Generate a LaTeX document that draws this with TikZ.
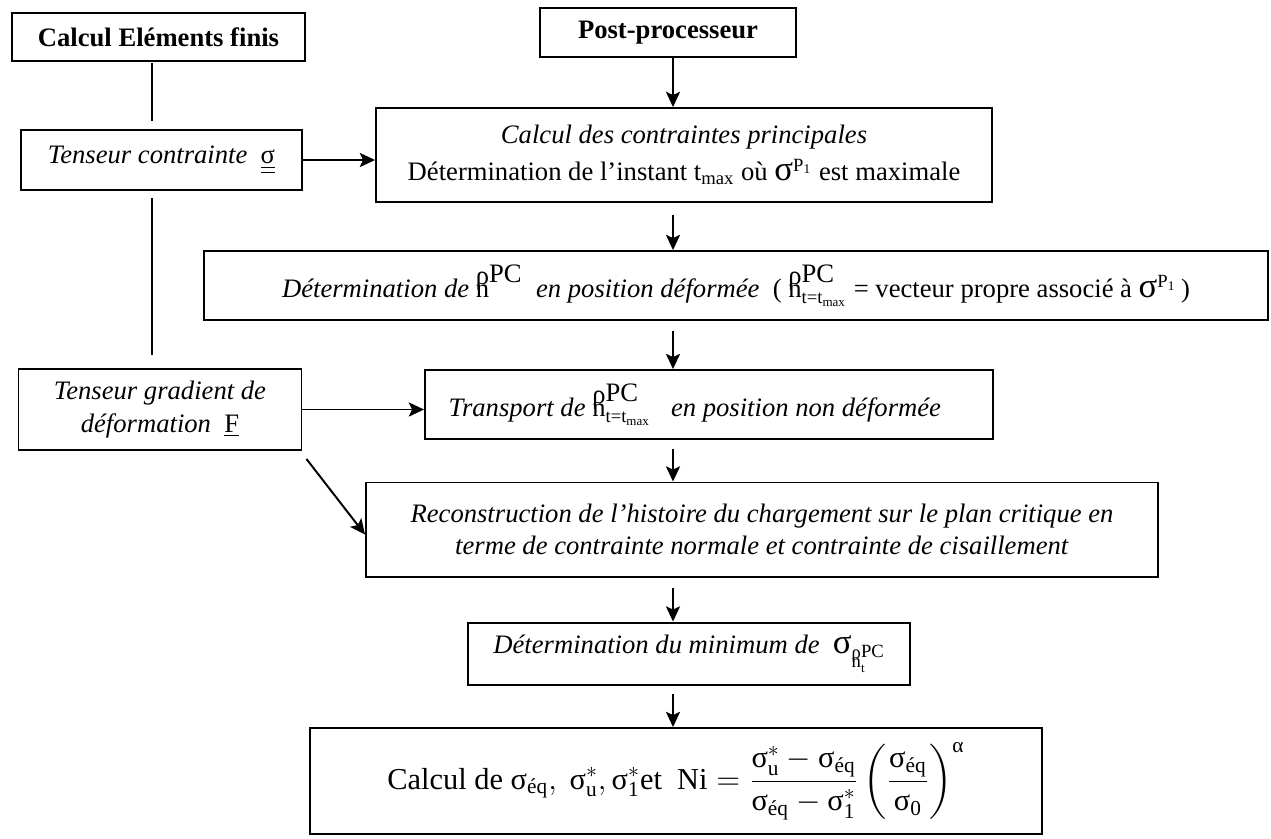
\documentclass[tikz,border=0pt]{standalone}
\usepackage{fontspec}
\setmainfont{Liberation Serif}
\usepackage{amsmath}
\usetikzlibrary{arrows.meta,calc}
\newcommand{\nvec}[2]{\textup{\rlap{\raisebox{1.05ex}{ρ}}}$\textup{n}^{\raisebox{0.45ex}{\textup{#1}}}_{\textup{#2}}$}
\newcommand{\bigsig}{{\fontsize{16}{16}\selectfont σ}}
\newcommand{\sgP}{\bigsig$^{\textup{P}_{\textup{1}}}$}
\newcommand{\sm}{\text{σ}}
\tikzset{
  bx/.style n args={2}{draw, line width=0.9pt, minimum width=#1*0.46pt, minimum height=#2*0.46pt,
    inner sep=0pt, align=center, font=\fontsize{12.25}{14.8}\selectfont},
  ln/.style={line width=0.9pt},
  arr/.style={line width=0.9pt, -{Stealth[length=7pt,width=6.5pt,inset=1.5pt]}}
}
\begin{document}
\begin{tikzpicture}[x=0.46pt,y=-0.46pt]
\useasboundingbox (0,0) rectangle (1271,838);
\coordinate (xl) at (152,0);
\coordinate (ax) at (673,0);
% boxes
\node[bx={293}{48}] (A) at (158.5,37) {\textbf{Calcul Eléments finis}};
\node[bx={256}{49}] (B) at (668,32.5) {\textbf{Post-processeur}};
\node[bx={281}{60}] (C) at (161.5,160) {\textit{Tenseur contrainte}\ \ $\underline{\underline{\text{σ}}}$};
\node[bx={616}{94}] (D) at (684,155) {\textit{Calcul des contraintes principales}\\[2pt]
  Détermination de l’instant t\textsubscript{max} où \sgP{} est maximale};
\node[bx={1064}{69}] (E) at (736,285.5) {\textit{Détermination de \nvec{PC}{}\ \ en position déformée}\ \
  (\ \nvec{PC}{t=t\textsubscript{max}}\ = vecteur propre associé à \sgP{}\,)};
\node[bx={283}{81}] (F) at (160,409.5) {\textit{Tenseur gradient de}\\\textit{déformation}\ \ \underline{F}};
\node[bx={568}{69}] (G) at (709,404.5) {\textit{Transport de\ \nvec{PC}{t=t\textsubscript{max}}\ \ \ en position non déformée}\hspace*{13pt}};
\node[bx={792}{94}] (H) at (762,529.5) {\textit{Reconstruction de l’histoire du chargement sur le plan critique en}\\
  \textit{terme de contrainte normale et contrainte de cisaillement}};
\node[bx={442}{62}] (I) at (689,653.5) {\textit{Détermination du minimum de}\ \ \bigsig\raisebox{-1.2ex}{\scalebox{0.7}{\nvec{PC}{t}}}};
\node[bx={732}{106}, font=\fontsize{14}{17}\selectfont] (J) at (676,781) {Calcul de $\sm_{\text{éq}},\ \sm^{*}_{\text{u}},\sm^{*}_{\text{1}}$et\ \
  $\text{Ni}=\dfrac{\sm^{*}_{\text{u}}-\sm_{\text{éq}}}{\sm_{\text{éq}}-\sm^{*}_{\text{1}}}\left(\dfrac{\sm_{\text{éq}}}{\sm_{\text{0}}}\right)^{\text{α}}$};
% connectors
\draw[ln, shorten <=0.5pt, shorten >=3.7pt] (A.south -| xl) -- (C.north -| xl);
\coordinate (cend) at (152,355);
\draw[ln, shorten <=3.2pt] (C.south -| xl) -- (cend);
\draw[arr] (B.south -| ax) -- (D.north -| ax);
\draw[arr, shorten <=5.5pt] (D.south -| ax) -- (E.north -| ax);
\draw[arr, shorten <=4.6pt] (E.south -| ax) -- (G.north -| ax);
\draw[arr, shorten <=4.1pt] (G.south -| ax) -- (H.north -| ax);
\draw[arr, shorten <=4.6pt] (H.south -| ax) -- (I.north -| ax);
\draw[arr, shorten <=4.1pt] (I.south -| ax) -- (J.north -| ax);
\draw[arr] (C.east) -- (C.east -| D.west);
\draw[arr] (F.east) -- (F.east -| G.west);
\draw[arr] ($(F.south east)+(4,8)$) -- ($(H.west)+(0,5)$);
\end{tikzpicture}
\end{document}
